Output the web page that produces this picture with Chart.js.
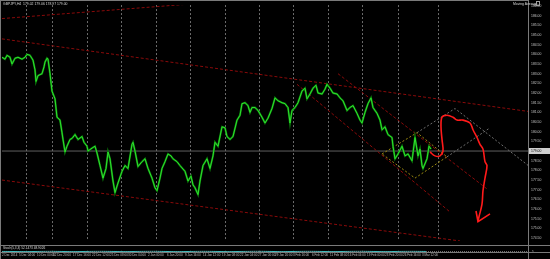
<!DOCTYPE html>
<html>
<head>
<meta charset="utf-8">
<script src="https://cdn.jsdelivr.net/npm/chart.js@4.4.1/dist/chart.umd.min.js"></script>
<style>
  html, body { margin: 0; padding: 0; background: #000; }
  #wrap { position: relative; width: 550px; height: 259px; overflow: hidden; background: #000; }
  canvas { position: absolute; left: 0; }
  #main { top: 0; }
  #sub { top: 246px; }
</style>
</head>
<body>
<div id="wrap">
  <canvas id="main" width="550" height="246"></canvas>
  <canvas id="sub" width="550" height="13"></canvas>
</div>
<script>
// GBPJPY H4 - bar number counted from the first bar on screen, close price
const barIdx = [0, 3, 5, 8, 10, 13, 16, 20, 23, 25, 28, 31, 33, 34, 36, 38, 40, 42, 43, 45,
  46, 48, 50, 53, 55, 58, 60, 61, 63, 65, 68, 70, 73, 76, 80, 82, 85, 86, 90, 93,
  95, 98, 101, 104, 106, 108, 111, 113, 116, 120, 123, 126, 130, 131, 133, 136, 140, 143, 146, 150,
  153, 155, 158, 160, 163, 166, 169, 171, 175, 178, 183, 186, 189, 191, 193, 196, 198, 201, 205, 208,
  211, 213, 216, 220, 223, 225, 228, 231, 235, 238, 240, 243, 246, 248, 250, 253, 256, 260, 263, 266,
  270, 273, 276, 280, 283, 286, 288, 290, 293, 296, 300, 303, 305, 308, 311, 314, 316, 320, 323, 325,
  328, 331, 335, 338, 341, 345, 348, 351, 355, 358, 360, 363, 366, 369, 371, 375, 378, 380, 383, 386,
  390, 391, 393, 396, 400, 403, 406, 410, 413, 416, 418, 420, 421, 425, 427, 429];
const closes = [183.85, 183.75, 183.95, 183.85, 183.50, 183.80, 183.85, 183.75, 183.85, 184.00,
  183.95, 183.70, 183.20, 182.60, 182.90, 182.95, 183.00, 183.35, 183.60, 183.80,
  183.75, 183.00, 182.10, 181.70, 180.75, 180.60, 179.95, 179.60, 178.95, 179.25,
  179.60, 179.65, 179.85, 179.60, 179.75, 179.45, 179.25, 179.00, 179.15, 179.25,
  178.90, 178.25, 177.60, 178.10, 178.95, 178.60, 177.45, 176.85, 177.35, 177.95,
  178.25, 178.10, 179.35, 179.45, 179.00, 178.20, 178.45, 178.60, 178.10, 177.60,
  177.10, 176.95, 177.60, 178.10, 178.45, 178.85, 178.75, 178.60, 178.45, 178.25,
  177.95, 177.45, 177.70, 177.25, 177.10, 176.75, 177.45, 178.25, 178.60, 178.10,
  178.75, 179.45, 179.25, 180.25, 180.20, 179.75, 179.60, 179.75, 180.60, 180.85,
  181.45, 181.50, 181.35, 181.00, 181.25, 181.25, 181.10, 180.75, 180.45, 180.70,
  181.20, 181.75, 181.60, 181.50, 181.45, 181.25, 180.45, 181.10, 181.25, 181.50,
  182.10, 182.25, 181.70, 181.95, 182.25, 182.40, 182.00, 181.95, 182.20, 182.45,
  182.25, 182.00, 181.95, 181.75, 181.60, 181.10, 181.25, 181.35, 180.95, 180.60,
  180.45, 181.00, 181.45, 181.75, 181.25, 180.95, 180.60, 180.10, 180.25, 179.85,
  179.70, 179.25, 178.60, 178.85, 179.25, 178.75, 178.85, 178.50, 179.70, 178.75,
  179.10, 178.25, 178.10, 178.60, 179.25, 179.10];
const bidPrice = 179.00;

// hand-drawn forecast (red) and its arrow head
const sketchIdx = [428, 433, 438, 441, 440, 439, 440, 445, 451, 455, 461, 468, 471, 475, 478, 481, 483, 485, 483, 481, 480, 477, 476];
const sketchPrice = [178.95, 178.75, 178.75, 179.00, 179.60, 180.25, 180.75, 180.85, 180.75, 180.60, 180.60, 180.45, 180.10, 179.70, 179.35, 179.10, 178.45, 178.25, 177.60, 176.95, 176.25, 175.60, 175.35];
const arrowIdx = [474, 476, 488];
const arrowPrice = [175.90, 175.35, 175.75];

// trend lines, [bar, price] points
const trendTop = [[0, 185.85], [250, 186.85]];
const trendUpper = [[0, 184.80], [526, 181.05]];
const trendLower = [[0, 177.50], [458, 174.35]];
const fanUpper = [[336, 183.00], [486, 177.00]];
const fanLower = [[295, 182.45], [448, 175.85]];
const flagBox = [[380, 178.85], [415, 179.95], [445, 178.70], [413, 177.60], [380, 178.85]];
const projTop = [[415, 179.95], [453, 181.20], [530, 178.10]];
const projLow = [[445, 178.70], [488, 180.20]];

// time axis
const gridIdx = [24, 50, 85, 119, 154, 188, 223, 257, 291, 326, 360, 396, 436];
const labelIdx = [0, 17, 35, 51, 71, 90, 108, 126, 146, 165, 183, 201, 220, 238, 256, 273, 291, 310, 328, 346, 365, 383, 401, 420];
const timeLabels = ['2 Dec 2014', '5 Dec 04:00', '10 Dec 00:00', '12 Dec 20:00', '17 Dec 16:00', '22 Dec 12:00',
  '25 Dec 08:00', '30 Dec 04:00', '2 Jan 00:00', '6 Jan 20:00', '9 Jan 16:00', '14 Jan 12:00',
  '19 Jan 08:00', '22 Jan 04:00', '27 Jan 00:00', '29 Jan 20:00', '3 Feb 16:00', '6 Feb 12:00',
  '11 Feb 08:00', '16 Feb 04:00', '19 Feb 00:00', '23 Feb 20:00', '26 Feb 16:00', '3 Mar 12:00'];

// stochastic sub window
const stochIdx = [0, 8, 16, 24, 32, 40, 48, 56, 64, 72, 80, 88, 96, 104, 112, 120, 128, 136, 144, 152,
  160, 168, 176, 184, 192, 200, 208, 216, 224, 232, 240, 248, 256, 264, 272, 280, 288, 296, 304, 312,
  320, 328, 336, 344, 352, 360, 368, 376, 384, 392, 400, 408, 416, 424];
const stochMain = [62, 48, 30, 22, 40, 68, 80, 58, 34, 20, 38, 66, 84, 72, 46, 24, 30, 58, 80, 86,
  60, 32, 18, 36, 64, 82, 70, 44, 22, 28, 56, 78, 88, 66, 38, 20, 34, 62, 84, 74,
  48, 26, 30, 58, 82, 86, 62, 34, 20, 40, 68, 80, 70, 52];
const stochSignal = [58, 55, 42, 30, 32, 48, 66, 70, 52, 34, 30, 46, 66, 78, 66, 44, 32, 42, 64, 80,
  74, 50, 30, 28, 46, 68, 76, 60, 38, 28, 40, 62, 80, 78, 56, 34, 30, 46, 70, 78,
  62, 40, 30, 44, 68, 82, 74, 50, 32, 34, 52, 70, 74, 62];

const titleText = 'GBPJPY,H4  179.02 179.06 178.97 179.00';
const subText = 'Stoch(5,3,3) 52.1473 48.9026';

const tinyFamily = "'Liberation Sans Narrow', 'Liberation Sans', sans-serif";
Chart.defaults.font.family = tinyFamily;

const pts = (xs, ys) => xs.map((x, i) => ({x: x, y: ys[i]}));
const pairs = (arr) => arr.map(p => ({x: p[0], y: p[1]}));
function lineSet(data, color, width, dash, tension) {
  return {data: data, borderColor: color, borderWidth: width, borderDash: dash || [],
    pointRadius: 0, fill: false, tension: tension || 0};
}

const mainDecor = {
  id: 'mainDecor',
  beforeDatasetsDraw(chart) {
    const {ctx, chartArea: a, scales: {x}} = chart;
    ctx.save();
    ctx.strokeStyle = '#6b6b6b';
    ctx.lineWidth = 1;
    ctx.setLineDash([2, 2]);
    gridIdx.forEach(v => {
      const px = Math.round(x.getPixelForValue(v)) + 0.5;
      ctx.beginPath();
      ctx.moveTo(px, a.top);
      ctx.lineTo(px, a.bottom);
      ctx.stroke();
    });
    ctx.restore();
  },
  afterDraw(chart) {
    const {ctx, chartArea: a, scales: {y}} = chart;
    ctx.save();
    ctx.strokeStyle = '#7a7a7a';
    ctx.lineWidth = 1;
    ctx.beginPath();
    ctx.moveTo(0.5, 0); ctx.lineTo(0.5, chart.height);
    ctx.moveTo(0, 0.5); ctx.lineTo(a.right, 0.5);
    ctx.moveTo(a.right + 0.5, 0); ctx.lineTo(a.right + 0.5, chart.height);
    ctx.moveTo(0, chart.height - 0.5); ctx.lineTo(chart.width, chart.height - 0.5);
    ctx.stroke();
    // current bid label on the price scale
    const py = Math.round(y.getPixelForValue(bidPrice));
    ctx.fillStyle = '#cfcfcf';
    ctx.fillRect(a.right + 1, py - 3, 21, 6);
    ctx.fillStyle = '#000';
    ctx.font = '3.4px ' + tinyFamily;
    ctx.textBaseline = 'middle';
    ctx.fillText(bidPrice.toFixed(2), a.right + 3, py);
    // window texts
    ctx.fillStyle = '#d8d8d8';
    ctx.textBaseline = 'top';
    ctx.fillText(titleText, 3, 2);
    ctx.fillText('Moving Average', 513, 2.5);
    ctx.strokeStyle = '#a0a0a0';
    ctx.strokeRect(536.5, 1.5, 3, 4);
    ctx.restore();
  }
};

new Chart(document.getElementById('main').getContext('2d'), {
  type: 'line',
  data: {
    datasets: [
      lineSet(pts(arrowIdx, arrowPrice), '#ff1a1a', 1.6),
      lineSet(pts(sketchIdx, sketchPrice), '#ff1a1a', 1.6, [], 0.35),
      lineSet(pts(barIdx, closes), '#2ee02e', 1),
      lineSet(pts(barIdx, closes), '#0a7a0a', 2),
      lineSet(pairs(flagBox), '#9c8a10', 1, [2, 2]),
      lineSet(pairs(projTop), '#6e6e6e', 1, [2, 2]),
      lineSet(pairs(projLow), '#6e6e6e', 1, [2, 2]),
      lineSet(pairs(fanUpper), '#8a0a0a', 1, [3, 2]),
      lineSet(pairs(fanLower), '#8a0a0a', 1, [3, 2]),
      lineSet(pairs(trendTop), '#8a0a0a', 1, [3, 2]),
      lineSet(pairs(trendUpper), '#8a0a0a', 1, [3, 2]),
      lineSet(pairs(trendLower), '#8a0a0a', 1, [3, 2]),
      lineSet([{x: 0, y: bidPrice}, {x: 526, y: bidPrice}], '#5f5f5f', 1)
    ]
  },
  options: {
    responsive: false,
    animation: false,
    devicePixelRatio: 1,
    layout: {padding: {left: 2, right: 0, top: 1, bottom: 1}},
    plugins: {legend: {display: false}, tooltip: {enabled: false}},
    scales: {
      x: {type: 'linear', min: 0, max: 526, display: false},
      y: {
        position: 'right', min: 174.35, max: 186.55,
        afterFit: s => { s.width = 22; },
        grid: {display: false, drawTicks: false},
        border: {display: false},
        ticks: {stepSize: 0.5, includeBounds: false, padding: 3, color: '#c4c4c4',
          font: {size: 3.4}, callback: v => v.toFixed(2)}
      }
    }
  },
  plugins: [mainDecor]
});

const subDecor = {
  id: 'subDecor',
  beforeDatasetsDraw(chart) {
    const {ctx, chartArea: a, scales: {x, y}} = chart;
    ctx.save();
    ctx.strokeStyle = '#6b6b6b';
    ctx.lineWidth = 1;
    ctx.setLineDash([2, 2]);
    gridIdx.forEach(v => {
      const px = Math.round(x.getPixelForValue(v)) + 0.5;
      ctx.beginPath();
      ctx.moveTo(px, a.top);
      ctx.lineTo(px, a.bottom);
      ctx.stroke();
    });
    ctx.setLineDash([1, 1]);
    const my = Math.round(y.getPixelForValue(50)) + 0.5;
    ctx.beginPath();
    ctx.moveTo(a.left, my);
    ctx.lineTo(a.right, my);
    ctx.stroke();
    ctx.restore();
  },
  afterDraw(chart) {
    const {ctx, chartArea: a} = chart;
    ctx.save();
    ctx.strokeStyle = '#7a7a7a';
    ctx.lineWidth = 1;
    ctx.beginPath();
    ctx.moveTo(0.5, 0); ctx.lineTo(0.5, chart.height);
    ctx.moveTo(a.right + 0.5, 0); ctx.lineTo(a.right + 0.5, chart.height);
    ctx.moveTo(0, a.bottom + 0.5); ctx.lineTo(chart.width, a.bottom + 0.5);
    ctx.stroke();
    ctx.fillStyle = '#d8d8d8';
    ctx.font = '3.2px ' + tinyFamily;
    ctx.textBaseline = 'top';
    ctx.fillText(subText, 3, 0.5);
    ctx.restore();
  }
};

new Chart(document.getElementById('sub').getContext('2d'), {
  type: 'line',
  data: {
    datasets: [
      lineSet(pts(stochIdx, stochMain), '#3cc0c0', 1, [], 0.3),
      lineSet(pts(stochIdx, stochSignal), '#b04040', 1, [1, 1], 0.3)
    ]
  },
  options: {
    responsive: false,
    animation: false,
    devicePixelRatio: 1,
    layout: {padding: {left: 2, right: 0, top: 0, bottom: 0}},
    plugins: {legend: {display: false}, tooltip: {enabled: false}},
    scales: {
      x: {
        type: 'linear', min: 0, max: 526,
        afterFit: s => { s.height = 7; },
        afterBuildTicks: s => { s.ticks = labelIdx.map(v => ({value: v})); },
        grid: {display: false, drawTicks: false},
        border: {display: false},
        ticks: {autoSkip: false, maxRotation: 0, minRotation: 0, align: 'start', padding: 1.5,
          color: '#c0c0c0', font: {size: 3}, callback: (v, i) => timeLabels[i]}
      },
      y: {
        position: 'right', min: -5, max: 105,
        afterFit: s => { s.width = 22; },
        grid: {display: false, drawTicks: false},
        border: {display: false},
        ticks: {stepSize: 100, includeBounds: false, padding: 3, color: '#c0c0c0', font: {size: 3}}
      }
    }
  },
  plugins: [subDecor]
});
</script>
</body>
</html>
